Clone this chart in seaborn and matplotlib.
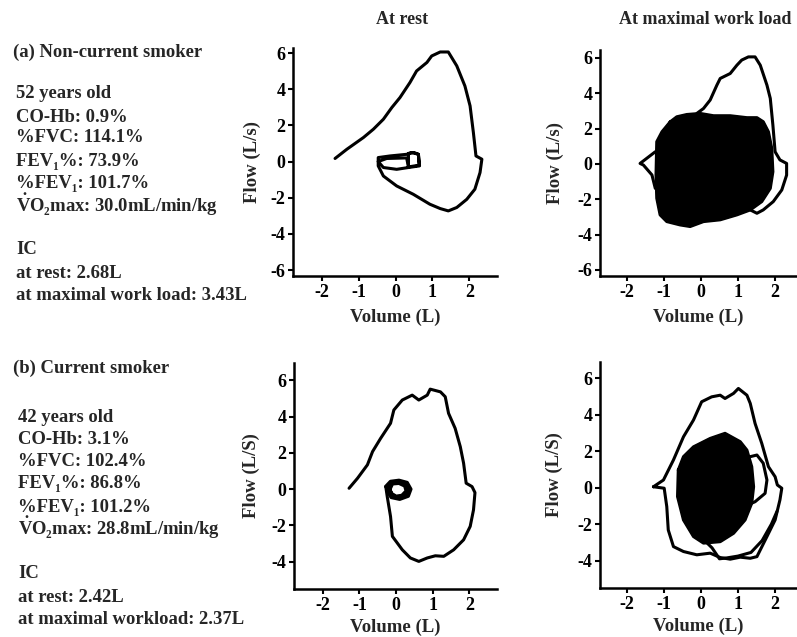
import matplotlib
matplotlib.use("Agg")
import matplotlib.pyplot as plt
import seaborn as sns
import pandas as pd

sns.set_theme(style="ticks")
plt.rcParams['font.family'] = ['Liberation Serif', 'DejaVu Serif']
plt.rcParams['font.weight'] = 'bold'
plt.rcParams['mathtext.fontset'] = 'custom'
plt.rcParams['mathtext.rm'] = 'Liberation Serif:bold'
plt.rcParams['mathtext.bf'] = 'Liberation Serif:bold'
plt.rcParams['mathtext.it'] = 'Liberation Serif:bold'

# ---------------- data (volume L, flow L/s) ----------------
# (a) non-current smoker, at rest
a_rest_vol = [-1.64, -1.32, -0.87, -0.60, -0.33, -0.10, 0.12, 0.39, 0.57, 0.85, 0.98, 1.21, 1.43, 1.66, 1.88,
              2.02, 2.11, 2.18, 2.34, 2.29, 2.15, 1.93, 1.66, 1.43, 1.21, 0.93, 0.48, 0.03, -0.33, -0.47, -0.47,
              -0.15, 0.30, 0.44, 0.62, 0.65, 0.35, 0.03, -0.33, -0.47, -0.24, 0.30, 0.35, 0.35, 0.50, 0.62, 0.64, 0.40]
a_rest_flow = [0.17, 0.68, 1.33, 1.79, 2.34, 2.99, 3.54, 4.37, 5.01, 5.48, 5.84, 6.06, 6.06, 5.29, 4.18,
               3.08, 1.60, 0.31, 0.13, -0.61, -1.53, -2.09, -2.54, -2.73, -2.60, -2.36, -1.81, -1.35, -0.80, -0.24, 0.22,
               0.31, 0.40, 0.50, 0.40, -0.24, -0.33, -0.43, -0.33, 0.00, 0.17, 0.20, -0.30, 0.45, 0.50, 0.40, -0.20, -0.28]

# (a) at maximal work load: outer maximal loop
a_max_vol = [-0.11, 0.07, 0.25, 0.43, 0.52, 0.79, 0.97, 1.10, 1.28, 1.46, 1.60, 1.78, 1.87, 1.94, 2.00, 2.13,
             2.31, 2.31, 2.18, 1.95, 1.68, 1.51, 1.33]
a_max_flow = [2.86, 3.14, 3.62, 4.46, 4.84, 5.12, 5.59, 5.88, 6.06, 6.06, 5.59, 4.46, 3.71, 2.20, 0.69, 0.23,
              0.03, -0.63, -1.47, -2.13, -2.60, -2.79, -2.60]
a_max_left_vol = [-1.23, -1.64, -1.55, -1.32, -1.23]
a_max_left_flow = [0.69, 0.03, -0.06, -0.62, -1.38]
# (a) at maximal work load: envelope of the dense tidal loops
a_tidal_vol = [-0.83, -0.65, -0.38, -0.02, 0.34, 0.79, 1.24, 1.51, 1.68, 1.82, 1.91, 1.94, 1.87, 1.64, 1.33,
               0.97, 0.52, 0.07, -0.29, -0.56, -0.92, -1.10, -1.19, -1.21, -1.19, -1.05]
a_tidal_flow = [2.38, 2.67, 2.80, 2.86, 2.73, 2.73, 2.62, 2.62, 2.39, 1.82, 0.88, -0.44, -1.38, -2.13, -2.60,
                -2.88, -3.16, -3.26, -3.54, -3.45, -3.26, -2.88, -1.94, -0.62, 1.26, 1.82]

# (b) current smoker, at rest
b_rest_vol = [-1.28, -1.05, -0.78, -0.64, -0.42, -0.15, -0.06, 0.17, 0.44, 0.62, 0.85, 0.93, 1.21, 1.34, 1.43,
              1.61, 1.75, 1.84, 1.91, 2.07, 2.15, 2.11, 2.02, 1.84, 1.57, 1.30, 1.07, 0.85, 0.62, 0.39, 0.17,
              -0.10, -0.15, -0.24, -0.28]
b_rest_flow = [0.05, 0.60, 1.34, 2.07, 2.80, 3.63, 4.36, 4.91, 5.18, 4.91, 5.18, 5.51, 5.36, 5.09, 4.18,
               3.35, 2.34, 1.43, 0.33, 0.14, -0.19, -1.14, -2.05, -2.79, -3.34, -3.70, -3.67, -3.79, -3.98, -3.79, -3.34,
               -2.60, -1.51, -0.41, 0.14]
b_rest_tidal_vol = [-0.28, -0.15, 0.08, 0.30, 0.40, 0.33, 0.10, -0.13, -0.24, -0.20, -0.05, 0.12, 0.30, 0.34,
                    0.22, 0.05, -0.12, -0.17, -0.10, 0.08, 0.24, 0.28, 0.16, 0.00, -0.12, -0.20]
b_rest_tidal_flow = [0.14, 0.42, 0.48, 0.36, 0.00, -0.38, -0.55, -0.45, -0.10, 0.22, 0.40, 0.40, 0.25, -0.10,
                     -0.40, -0.48, -0.35, 0.00, 0.30, 0.33, 0.18, -0.10, -0.35, -0.40, -0.25, 0.05]

# (b) at maximal work load: outer maximal loop
b_max_vol = [-1.28, -1.01, -0.74, -0.47, -0.20, 0.02, 0.29, 0.52, 0.65, 0.88, 1.01, 1.24, 1.33, 1.46, 1.64,
             1.82, 2.00, 2.06, 2.18, 2.13, 2.00, 1.78, 1.51, 1.33, 1.06, 0.79, 0.52, 0.25, -0.11, -0.47, -0.74,
             -0.88, -0.92, -0.99, -1.28]
b_max_flow = [0.05, 0.42, 1.52, 2.79, 3.71, 4.71, 4.98, 5.07, 4.89, 5.17, 5.44, 5.07, 4.62, 3.52, 2.43,
              1.15, 0.60, 0.15, -0.03, -0.67, -1.77, -2.68, -3.78, -3.87, -3.81, -3.92, -3.83, -3.59, -3.68, -3.50, -3.23,
              -2.32, -1.04, -0.03, 0.05]
b_max_inner_vol = [1.33, 1.51, 1.68, 1.78, 1.73, 1.46, 1.37]
b_max_inner_flow = [1.70, 1.79, 1.34, 0.42, -0.31, -0.77, -0.85]
b_max_low_vol = [2.05, 1.90, 1.65, 1.35, 1.00, 0.70, 0.50, 0.30, 0.15]
b_max_low_flow = [-1.30, -2.00, -2.90, -3.55, -3.75, -3.85, -3.90, -3.30, -3.00]
# (b) at maximal work load: envelope of the dense tidal loops
b_tidal_vol = [-0.61, -0.47, -0.20, 0.25, 0.65, 1.06, 1.24, 1.37, 1.42, 1.37, 1.19, 0.88, 0.52, 0.07, -0.20,
               -0.47, -0.63]
b_tidal_flow = [0.97, 1.70, 2.24, 2.70, 2.98, 2.52, 2.06, 1.15, 0.05, -0.85, -1.77, -2.50, -2.96, -3.04, -2.68,
                -1.77, -0.49]

col_titles = ["At rest", "At maximal work load"]
xticks = [-2, -1, 0, 1, 2]
yticks_a = [-6, -4, -2, 0, 2, 4, 6]
yticks_b = [-4, -2, 0, 2, 4, 6]

VDOT = r"$\dot{\mathrm{V}}$"
text_a = ["52 years old", "CO-Hb: 0.9%", "%FVC: 114.1%", "FEV\u2081%: 73.9%", "%FEV\u2081: 101.7%",
          VDOT + "O\u2082max: 30.0mL/min/kg", "", "IC", "at rest: 2.68L", "at maximal work load: 3.43L"]
text_b = ["42 years old", "CO-Hb: 3.1%", "%FVC: 102.4%", "FEV\u2081%: 86.8%", "%FEV\u2081: 101.2%",
          VDOT + "O\u2082max: 28.8mL/min/kg", "", "IC", "at rest: 2.42L", "at maximal workload: 2.37L"]

# ---------------- figure ----------------
W, H = 797, 637
fig = plt.figure(figsize=(W / 100, H / 100), dpi=100)


def rect(l, r, t, b):
    return [l / W, 1 - b / H, (r - l) / W, (b - t) / H]


ax_ar = fig.add_axes(rect(293, 497, 48, 276))
ax_am = fig.add_axes(rect(600, 797, 50, 276))
ax_br = fig.add_axes(rect(294, 497, 363, 589))
ax_bm = fig.add_axes(rect(600, 797, 362, 588))

LW = 2.2
K = "black"


def line(ax, v, f, lw=LW):
    df = pd.DataFrame({"Volume": v, "Flow": f})
    sns.lineplot(data=df, x="Volume", y="Flow", sort=False, estimator=None, ax=ax,
                 color=K, linewidth=lw, solid_capstyle="round", solid_joinstyle="round")


line(ax_ar, a_rest_vol, a_rest_flow)

ax_am.fill(a_tidal_vol, a_tidal_flow, color=K, zorder=3)
line(ax_am, a_max_vol, a_max_flow)
line(ax_am, a_max_left_vol, a_max_left_flow)
line(ax_am, a_tidal_vol + a_tidal_vol[:1], a_tidal_flow + a_tidal_flow[:1])

line(ax_br, b_rest_vol, b_rest_flow)
line(ax_br, b_rest_tidal_vol, b_rest_tidal_flow, lw=2.6)

ax_bm.fill(b_tidal_vol, b_tidal_flow, color=K, zorder=3)
line(ax_bm, b_max_vol, b_max_flow)
line(ax_bm, b_max_inner_vol, b_max_inner_flow)
line(ax_bm, b_max_low_vol, b_max_low_flow)
line(ax_bm, b_tidal_vol + b_tidal_vol[:1], b_tidal_flow + b_tidal_flow[:1])

FS = 13
for ax, xl, yl, yt, ylab, xpad, ypad in [
    (ax_ar, (-2.78, 2.75), (-6.33, 6.28), yticks_a, "Flow (L/s)", 6, 7),
    (ax_am, (-2.72, 2.59), (-6.34, 6.45), yticks_a, "Flow (L/s)", 6, 9.5),
    (ax_br, (-2.78, 2.75), (-5.5, 6.95), yticks_b, "Flow (L/S)", 3.5, 8),
    (ax_bm, (-2.72, 2.59), (-5.5, 6.89), yticks_b, "Flow (L/S)", 3.5, 10.5),
]:
    ax.set_xlim(*xl)
    ax.set_ylim(*yl)
    ax.set_xticks(xticks)
    ax.set_yticks(yt)
    ax.set_xticklabels([str(v) for v in xticks], fontsize=FS, fontweight="bold")
    ax.set_yticklabels([str(v) for v in yt], fontsize=FS, fontweight="bold")
    ax.set_xlabel("Volume (L)", fontsize=13.5, fontweight="bold", labelpad=xpad)
    ax.set_ylabel(ylab, fontsize=13.5, fontweight="bold", labelpad=ypad)
    sns.despine(ax=ax)
    for s in ("left", "bottom"):
        ax.spines[s].set_linewidth(1.8)
        ax.spines[s].set_color(K)
    ax.tick_params(direction="out", length=3.5, width=1.5, colors=K, pad=2)
    ax.set_facecolor("white")
    ax.patch.set_alpha(0)

fig.text(402 / W, 1 - 19 / H, col_titles[0], ha="center", va="center", fontsize=13, fontweight="bold")
fig.text(705 / W, 1 - 19 / H, col_titles[1], ha="center", va="center", fontsize=13, fontweight="bold")

TFS = 13.4
fig.text(13 / W, 1 - 52 / H, "(a) Non-current smoker", ha="left", va="center", fontsize=TFS, fontweight="bold")
ya = [93, 117, 138, 162, 183, 205, None, 250, 273, 295]
for s, y in zip(text_a, ya):
    if y is not None:
        fig.text(16 / W, 1 - y / H, s, ha="left", va="center", fontsize=TFS, fontweight="bold")

fig.text(13 / W, 1 - 368 / H, "(b) Current smoker", ha="left", va="center", fontsize=TFS, fontweight="bold")
yb = [417, 439, 462, 484, 507, 528, None, 574, 597, 620]
for s, y in zip(text_b, yb):
    if y is not None:
        fig.text(18 / W, 1 - y / H, s, ha="left", va="center", fontsize=TFS, fontweight="bold")

fig.savefig("out.png", dpi=100, facecolor="white")
